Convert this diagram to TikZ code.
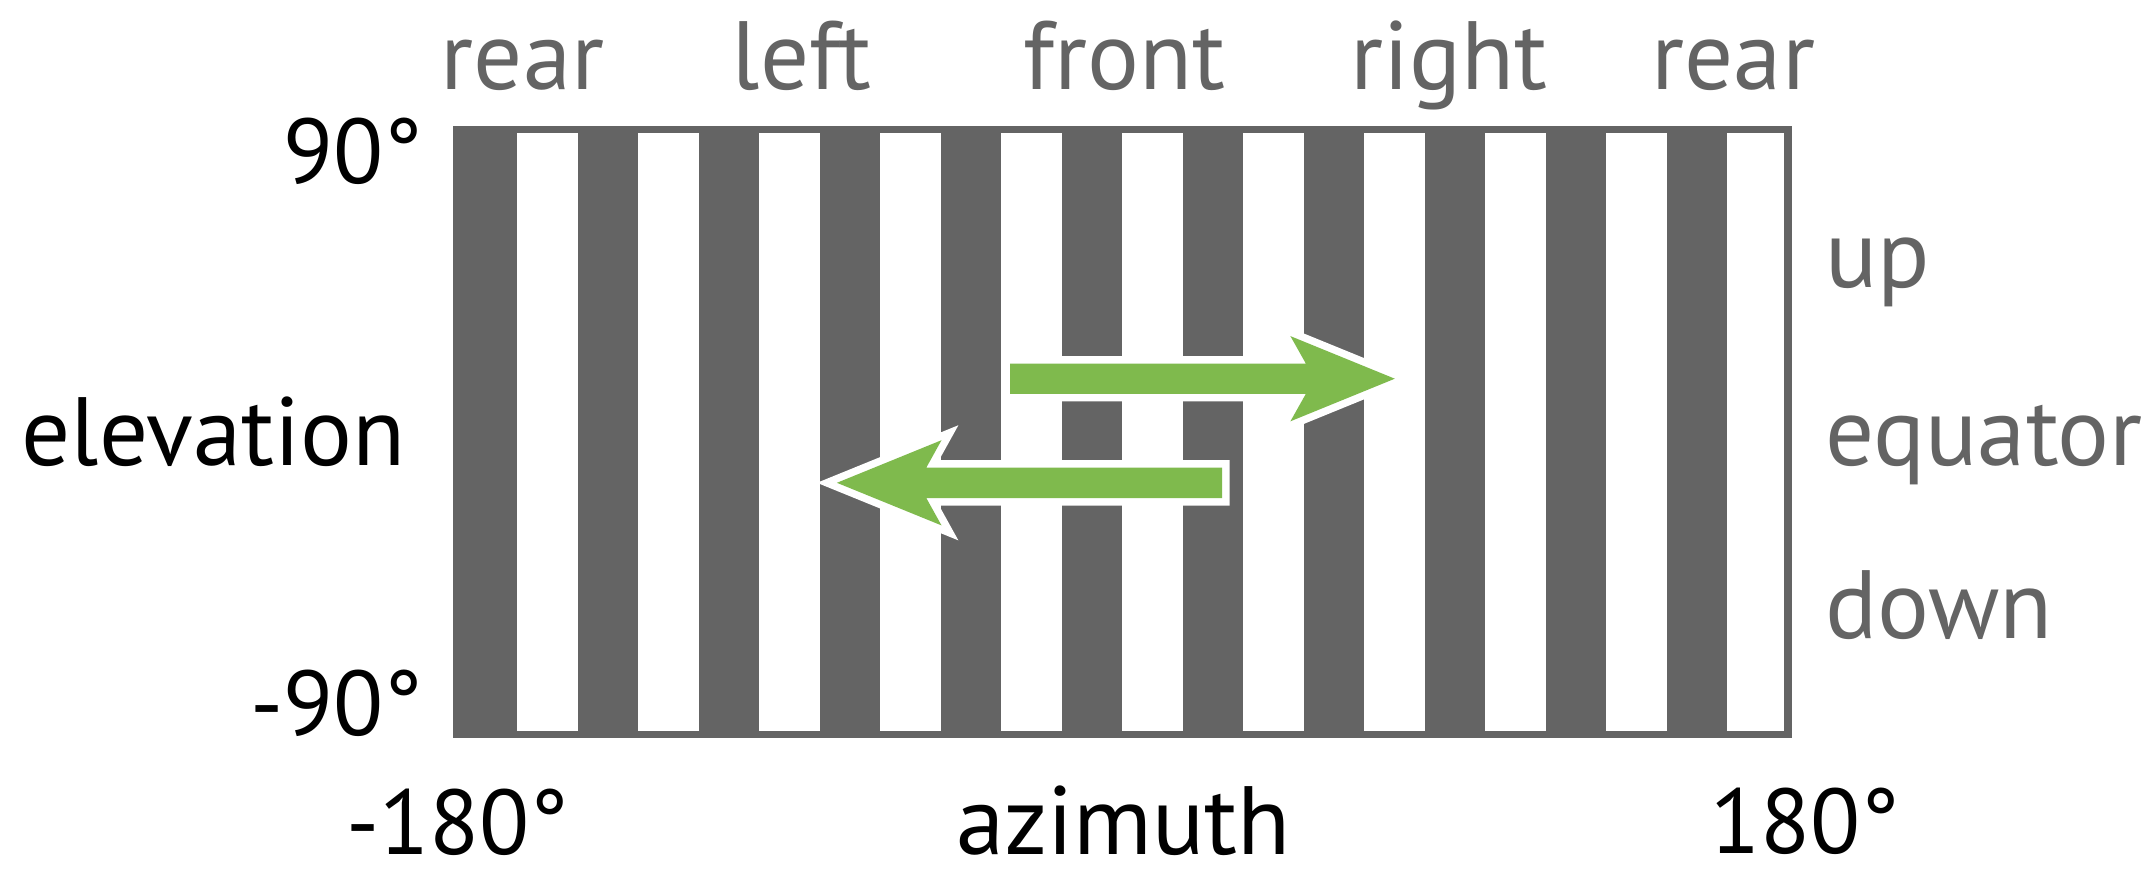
\documentclass[tikz,border=0pt]{standalone}
\usepackage{fontspec}
\setmainfont{PT Sans}
\definecolor{stripegray}{RGB}{100,100,100}
\definecolor{arrowgreen}{RGB}{127,186,77}
\begin{document}
\begin{tikzpicture}[x=1pt,y=-1pt,
  lbl/.style={font=\fontsize{97}{110}\selectfont, inner sep=0pt, anchor=base},
  graylbl/.style={lbl, text=stripegray},
  blacklbl/.style={lbl, text=black},
  numlbl/.style={blacklbl, font=\fontsize{92}{110}\selectfont},
  bigarrow/.style={fill=arrowgreen, preaction={draw=white, line width=15pt, line join=miter, miter limit=10}}]
\useasboundingbox (0,0) rectangle (2155,871);
% striped field
\fill[stripegray] (453.3,126) rectangle (1791.5,738);
\foreach \k in {0,...,9} \fill[white] ({517.3+121*\k},133.3) rectangle ({577.7+121*\k},730.7);
\fill[white] (1727.3,133.3) rectangle (1784,730.7);
% arrows
\path[bigarrow] (1010.1,363.5) -- (1305.8,363.5) -- (1290.4,336.1) -- (1394.8,378.7)
  -- (1290.4,421.3) -- (1305.8,393.9) -- (1010.1,393.9) -- cycle;
\path[bigarrow] (1222,467.6) -- (926.3,467.6) -- (941.5,440.2) -- (836.9,482.8)
  -- (941.5,525.4) -- (926.3,498) -- (1222,498) -- cycle;
% top labels
\node[graylbl] (rearL) at (522.5,89.3) {rear};
\node[graylbl] (left) at (801.7,89.3) {left};
\node[graylbl] (front) at (1124.3,89.3) {front};
\node[graylbl] (right) at (1449.3,89.3) {right};
\node[graylbl] (rearR) at (1733.3,89.3) {rear};
% right labels
\node[graylbl, anchor=base west] (up) at (1825,287.2) {up};
\node[graylbl, anchor=base west] (equator) at (1825,465.6) {equator};
\node[graylbl, anchor=base west] (down) at (1825,638.9) {down};
% left labels
\node[numlbl, anchor=base east] (top) at (423,183.3) {90°};
\node[blacklbl] (elev) at (213.3,465) {elevation};
\node[numlbl, anchor=base east] (bot) at (423,735) {-90°};
% bottom labels
\node[numlbl, text depth=0pt] (azl) at (457.5,854.3) {-180°};
\node[blacklbl, text depth=0pt] (az) at (1123.5,854.3) {azimuth};
\node[numlbl, text depth=0pt] (azr) at (1805.3,853) {180°};
\end{tikzpicture}
\end{document}
